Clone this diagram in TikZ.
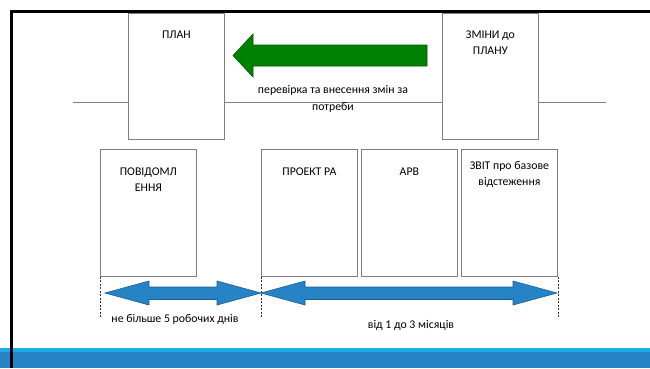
\documentclass[tikz,border=0pt]{standalone}
\usepackage{fontspec}
\setmainfont{Carlito}
\definecolor{boxgray}{HTML}{7F7F7F}
\definecolor{arrgreen}{HTML}{008000}
\definecolor{arrgreenD}{HTML}{005A00}
\definecolor{arrblue}{HTML}{2683C6}
\definecolor{arrblueD}{HTML}{1C5F91}
\definecolor{bandlight}{HTML}{1CADE4}
\definecolor{banddark}{HTML}{2683C6}
\tikzset{
  stagebox/.style={draw=boxgray, line width=0.8pt, fill=white, minimum width=96pt, inner sep=0pt},
  boxtext/.style={font=\fontsize{11.8}{16}\selectfont, align=center, anchor=north, inner sep=0pt},
  lbl/.style={font=\fontsize{11.8}{16.5}\selectfont, align=center, inner sep=0pt},
  guide/.style={draw=boxgray, line width=0.8pt},
  tick/.style={draw=black!80, line width=0.6pt, dash pattern=on 2pt off 1.5pt},
  greenarrow/.style={fill=arrgreen, draw=arrgreenD, line width=0.6pt},
  bluearrow/.style={fill=arrblue, draw=arrblueD, line width=0.6pt}
}
\begin{document}
\begin{tikzpicture}[x=1pt,y=-1pt]
\useasboundingbox (0,0) rectangle (650,368);
\fill[white] (0,0) rectangle (650,368);
% bottom band
\fill[bandlight] (0,348) rectangle (650,352);
\fill[banddark] (0,352) rectangle (650,368);
% frame
\draw[black, line width=3pt] (11,368) -- (11,11.5) -- (650,11.5);

% horizontal guide line
\coordinate (l0) at (73,102);
\coordinate (l1) at (606,102);

% top boxes
\node[stagebox, minimum height=126pt, anchor=north west] (plan) at (128,12.5) {};
\node[stagebox, minimum height=126pt, anchor=north west] (change) at (442,12.5) {};
\node[boxtext] (plant) at ([yshift=-18pt]plan.north) {ПЛАН};
\node[boxtext] (changet) at ([yshift=-18pt]change.north) {ЗМІНИ до\\ПЛАНУ};

\draw[guide] (l0) -- (l0 -| plan.west);
\draw[guide] (l0 -| plan.east) -- (l0 -| change.west);
\draw[guide] (l0 -| change.east) -- (l1);

% green arrow
\draw[greenarrow] (233,55.5) -- (253,34) -- (253,45) -- (427,45) -- (427,66) -- (253,66) -- (253,77) -- cycle;
\node[lbl, anchor=north] (review) at (333,85.5) {перевірка та внесення змін за\\потреби};

% bottom boxes
\node[stagebox, minimum height=127pt, anchor=north west] (notice) at (100,149) {};
\node[stagebox, minimum height=127pt, anchor=north west] (project) at (261,149) {};
\node[stagebox, minimum height=127pt, anchor=north west] (arv) at (361,149) {};
\node[stagebox, minimum height=127pt, anchor=north west] (report) at (461,149) {};
\node[boxtext] at ([yshift=-18.5pt]notice.north) {ПОВІДОМЛ\\ЕННЯ};
\node[boxtext] at ([yshift=-18.5pt]project.north) {ПРОЕКТ РА};
\node[boxtext] at ([yshift=-18.5pt]arv.north) {АРВ};
\node[boxtext] at ([yshift=-12.5pt]report.north) {ЗВІТ про базове\\відстеження};

% dashed ticks
\coordinate (t1) at ([yshift=-41pt]notice.south west);
\coordinate (t2) at ([yshift=-41pt]project.south west);
\coordinate (t3) at ([yshift=-41pt]report.south east);
\draw[tick] (notice.south west) -- (t1);
\draw[tick] (project.south west) -- (t2);
\draw[tick] (report.south east) -- (t3);

% blue double arrows
\draw[bluearrow] (105,293) -- (149,281) -- (149,287) -- (217,287) -- (217,281) -- (261,293) -- (217,305) -- (217,299.5) -- (149,299.5) -- (149,305) -- cycle;
\draw[bluearrow] (261,293) -- (305,281) -- (305,287) -- (513,287) -- (513,281) -- (557,293) -- (513,305) -- (513,299.5) -- (305,299.5) -- (305,305) -- cycle;

\node[lbl, anchor=base] (d1) at (175,322.5) {не більше 5 робочих днів};
\node[lbl, anchor=base] (d2) at (411,328.5) {від 1 до 3 місяців};
\end{tikzpicture}
\end{document}
